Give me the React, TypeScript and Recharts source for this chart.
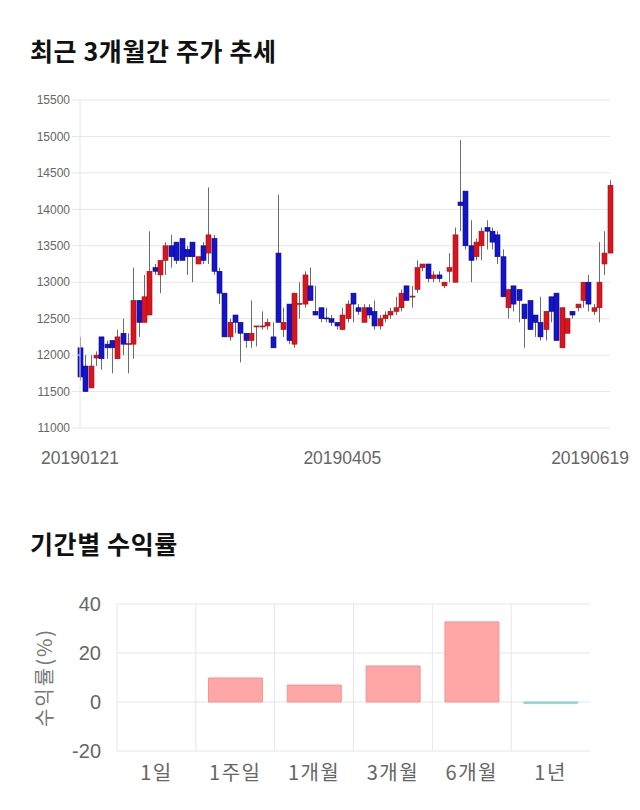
import React from 'react';
import {
  ComposedChart, Bar, BarChart, XAxis, YAxis, CartesianGrid, Cell, Label,
} from 'recharts';

const dates = [
  '20190121', '20190122', '20190123', '20190124', '20190125', '20190128', '20190129', '20190130',
  '20190201', '20190207', '20190208', '20190211', '20190212', '20190213', '20190214', '20190215',
  '20190218', '20190219', '20190220', '20190221', '20190222', '20190225', '20190226', '20190227', '20190228',
  '20190304', '20190305', '20190306', '20190307', '20190308', '20190311', '20190312', '20190313', '20190314', '20190315',
  '20190318', '20190319', '20190320', '20190321', '20190322', '20190325', '20190326', '20190327', '20190328', '20190329',
  '20190401', '20190402', '20190403', '20190404', '20190405', '20190408', '20190409', '20190410', '20190411', '20190412',
  '20190415', '20190416', '20190417', '20190418', '20190419', '20190422', '20190423', '20190424', '20190425', '20190426',
  '20190429', '20190430', '20190502', '20190503', '20190507', '20190508', '20190509', '20190510',
  '20190513', '20190514', '20190515', '20190516', '20190517', '20190520', '20190521', '20190522', '20190523', '20190524',
  '20190527', '20190528', '20190529', '20190530', '20190531', '20190603', '20190604', '20190605', '20190607',
  '20190610', '20190611', '20190612', '20190613', '20190614', '20190617', '20190618', '20190619',
];

const opens = [
  12100, 11850, 11550, 11960, 12250, 12150, 12200, 11950, 12300, 12150,
  12150, 12750, 12450, 12550, 13200, 13100, 13300, 13500, 13550, 13600,
  13450, 13550, 13250, 13500, 13400, 13600, 13150, 12850, 12250, 12550,
  12450, 12300, 12200, 12390, 12400, 12400, 12250, 13400, 12350, 12700,
  12150, 12700, 12700, 12950, 12600, 12650, 12510, 12500, 12450, 12350,
  12500, 12850, 12650, 12450, 12650, 12600, 12400, 12500, 12550, 12600,
  12650, 12950, 12800, 12900, 13200, 13250, 13050, 13100, 12950, 13150,
  13000, 14100, 14250, 13500, 13350, 13500, 13750, 13700, 13650, 13350,
  12650, 12950, 12900, 12700, 12750, 12550, 12450, 12350, 12800, 12850,
  12100, 12300, 12600, 12650, 12750, 13000, 12600, 12650, 13250, 13400,
];
const highs = [
  12250, 12000, 12000, 12050, 12250, 12200, 12200, 12350, 12500, 12300,
  13200, 12750, 13100, 13700, 13250, 13300, 13550, 13650, 13550, 13600,
  13500, 13550, 13350, 13550, 14300, 13650, 13200, 12850, 12500, 12550,
  12450, 12300, 12750, 12400, 12600, 12500, 12450, 14200, 12650, 12700,
  12850, 13000, 13150, 13200, 12950, 12650, 12650, 12550, 12450, 12650,
  12750, 12850, 12700, 12700, 12700, 12750, 12550, 12600, 12650, 12800,
  12900, 12950, 12950, 13300, 13250, 13250, 13150, 13150, 13000, 13400,
  13750, 14950, 14250, 13850, 13600, 13750, 13850, 13750, 13700, 13450,
  12900, 12950, 12900, 12700, 12750, 12550, 12800, 12600, 12800, 12850,
  12650, 12500, 12600, 12700, 13000, 13100, 12700, 13550, 13700, 14400,
];
const lows = [
  11650, 11500, 11550, 11850, 11800, 11950, 11750, 11950, 12000, 11750,
  11950, 12250, 12450, 12550, 13100, 12850, 13100, 13200, 13250, 13300,
  13100, 13000, 13250, 13250, 13250, 13100, 12700, 12250, 12200, 12300,
  11900, 12100, 12100, 12120, 12350, 12350, 12100, 12450, 12250, 12150,
  12100, 12500, 12650, 12750, 12550, 12450, 12450, 12400, 12350, 12350,
  12450, 12450, 12550, 12450, 12500, 12350, 12350, 12450, 12500, 12550,
  12600, 12750, 12650, 12850, 13150, 13000, 13000, 13000, 12920, 13000,
  13000, 13700, 13450, 13000, 13300, 13300, 13450, 13450, 13250, 12800,
  12500, 12600, 12450, 12100, 12350, 12250, 12200, 12200, 12450, 12200,
  12100, 12300, 12500, 12600, 12650, 12600, 12550, 12450, 13100, 13400,
];
const closes = [
  11700, 11500, 11850, 12000, 11950, 12100, 12100, 12250, 12150, 12160,
  12750, 12450, 12800, 13150, 13150, 13300, 13500, 13350, 13300, 13300,
  13350, 13350, 13350, 13300, 13650, 13150, 12850, 12250, 12450, 12450,
  12300, 12200, 12300, 12400, 12400, 12450, 12100, 12450, 12450, 12200,
  12850, 12710, 13100, 12750, 12550, 12500, 12500, 12450, 12400, 12550,
  12700, 12700, 12600, 12650, 12550, 12400, 12500, 12550, 12600, 12650,
  12850, 12750, 12810, 13200, 13250, 13050, 13100, 13050, 13000, 13200,
  13650, 14050, 13500, 13300, 13550, 13700, 13700, 13550, 13350, 12800,
  12900, 12700, 12750, 12500, 12350, 12450, 12250, 12600, 12600, 12200,
  12650, 12500, 12550, 12700, 13000, 12700, 12650, 13000, 13400, 14330,
];

const priceTicks = [11000, 11500, 12000, 12500, 13000, 13500, 14000, 14500, 15000, 15500];
const dateTickIndexes = [0, 49, 99];

const periodLabels = ['1일', '1주일', '1개월', '3개월', '6개월', '1년'];
const periodReturns = [0, 9.8, 6.9, 14.7, 32.7, -0.5];
const returnTicks = [-20, 0, 20, 40];

const candles = dates.map((date, i) => ({
  idx: i,
  date,
  open: opens[i],
  high: highs[i],
  low: lows[i],
  close: closes[i],
}));

const returns = periodLabels.map((label, i) => ({ label, value: periodReturns[i] }));

const RED = '#d6161e';
const RED_EDGE = '#a80f14';
const BLUE = '#1414c8';
const BLUE_EDGE = '#0a0a8c';
const GRID = '#e6e6e6';
const KR = '"Noto Sans CJK KR", "Noto Sans", sans-serif';
const LATIN = '"Liberation Sans", Arial, sans-serif';

const Candle = (props: any) => {
  const { x, y, width, height, payload } = props;
  const { open, close, high, low } = payload;
  const top = Math.min(y, y + height);
  const h = Math.abs(height);
  const ratio = h / (high - low || 1);
  const up = close >= open;
  const bodyTop = top + (high - Math.max(open, close)) * ratio;
  const bodyH = Math.max(1, Math.abs(close - open) * ratio);
  const cx = Math.round(x + width / 2) + 0.5;
  return (
    <g>
      <line x1={cx} x2={cx} y1={top} y2={top + h} stroke="#6b6b6b" strokeWidth={1} />
      <rect
        x={cx - 2.5}
        y={bodyTop}
        width={5}
        height={bodyH}
        fill={up ? RED : BLUE}
        stroke={up ? RED_EDGE : BLUE_EDGE}
        strokeWidth={0.6}
      />
    </g>
  );
};

const DateTick = (props: any) => {
  const { x, y, payload } = props;
  const last = payload.value === dateTickIndexes[dateTickIndexes.length - 1];
  return (
    <text
      x={last ? x + 19 : x}
      y={y + 28}
      textAnchor={last ? 'end' : 'middle'}
      fill="#666"
      fontSize={17.5}
      fontFamily={LATIN}
    >
      {dates[payload.value]}
    </text>
  );
};

const PeriodTick = (props: any) => {
  const { x, y, payload } = props;
  return (
    <text
      x={x}
      y={y + 21}
      textAnchor="middle"
      fill="#666"
      fontSize={20}
      letterSpacing={1.5}
      fontFamily={KR}
    >
      {payload.value}
    </text>
  );
};

const titleStyle: React.CSSProperties = {
  position: 'absolute',
  left: 30,
  margin: 0,
  fontFamily: KR,
  fontWeight: 700,
  fontSize: 25,
  letterSpacing: 0.6,
  lineHeight: '28px',
  color: '#111',
};

export default function App() {
  return (
    <div style={{ position: 'absolute', left: 0, top: 0, width: 640, height: 810, background: '#fff' }}>
      <div style={{ ...titleStyle, top: 36 }}>최근 3개월간 주가 추세</div>
      <div style={{ position: 'absolute', left: 0, top: 0 }}>
        <ComposedChart
          width={640}
          height={480}
          data={candles}
          margin={{ top: 100, right: 30, bottom: 12, left: 30 }}
        >
          <CartesianGrid stroke={GRID} vertical={false} />
          <XAxis
            dataKey="idx"
            type="number"
            domain={[0, candles.length - 1]}
            ticks={dateTickIndexes}
            tick={<DateTick />}
            axisLine={false}
            tickLine={false}
            height={40}
            interval={0}
          />
          <YAxis
            domain={[11000, 15500]}
            ticks={priceTicks}
            width={50}
            tickSize={8}
            tickLine={{ stroke: GRID }}
            axisLine={{ stroke: GRID }}
            tick={{ fill: '#666', fontSize: 12, fontFamily: LATIN }}
            interval={0}
          />
          <Bar
            dataKey={(d: any) => [d.low, d.high]}
            barSize={5}
            shape={<Candle />}
            isAnimationActive={false}
          />
        </ComposedChart>
      </div>

      <div style={{ ...titleStyle, top: 529 }}>기간별 수익률</div>
      <div style={{ position: 'absolute', left: 0, top: 580 }}>
        <BarChart
          width={640}
          height={220}
          data={returns}
          margin={{ top: 24, right: 50, bottom: 19, left: 30 }}
          barCategoryGap="16%"
        >
          <CartesianGrid
            stroke={GRID}
            verticalCoordinatesGenerator={({ offset }: any) =>
              periodLabels.map((_, i) => offset.left + (i * offset.width) / periodLabels.length)
            }
          />
          <XAxis
            dataKey="label"
            axisLine={false}
            tickLine={false}
            tick={<PeriodTick />}
            height={30}
            interval={0}
          />
          <YAxis
            domain={[-20, 40]}
            ticks={returnTicks}
            width={87}
            axisLine={false}
            tickLine={false}
            tickMargin={10}
            tick={{ fill: '#666', fontSize: 20, fontFamily: LATIN }}
            interval={0}
          >
            <Label
              value="수익률(%)"
              angle={-90}
              position="insideLeft"
              offset={15}
              style={{ fill: '#777', fontSize: 20, letterSpacing: 2, fontFamily: KR, textAnchor: 'middle' }}
            />
          </YAxis>
          <Bar dataKey="value" isAnimationActive={false}>
            {returns.map((r, i) => (
              <Cell
                key={i}
                fill={r.value < 0 ? '#a6e0e0' : '#ffa6a6'}
                stroke={r.value < 0 ? '#7dcfcf' : '#f59393'}
              />
            ))}
          </Bar>
        </BarChart>
      </div>
    </div>
  );
}
